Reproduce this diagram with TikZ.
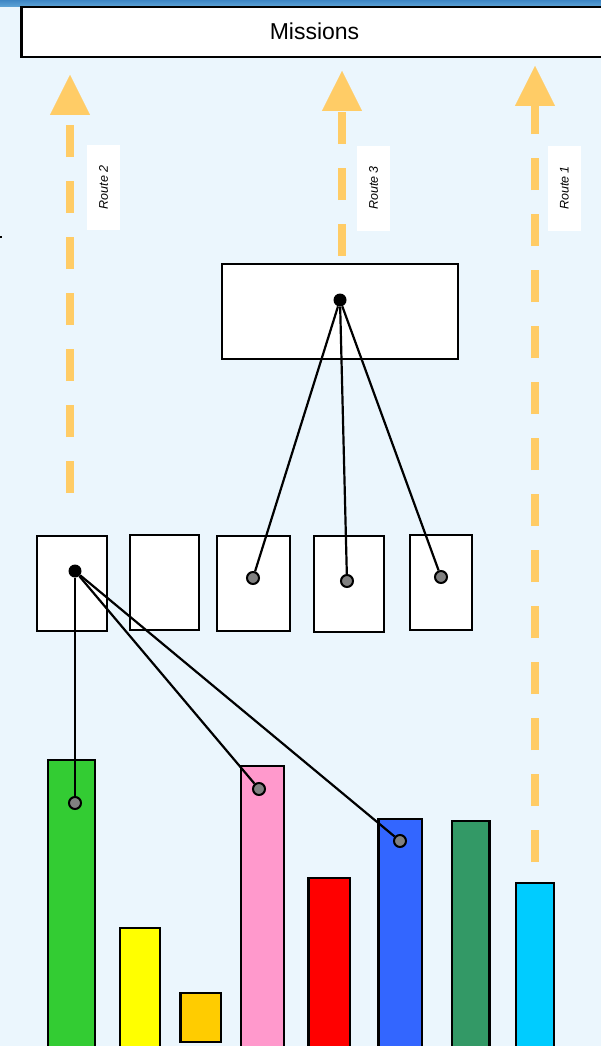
\documentclass[tikz,border=0pt]{standalone}
\usepackage{fontspec}
\setmainfont{Liberation Sans}
\usetikzlibrary{arrows.meta}
\definecolor{bgblue}{RGB}{235,246,253}
\definecolor{bandtop}{RGB}{62,134,196}
\definecolor{bandbot}{RGB}{96,166,216}
\definecolor{routeorange}{RGB}{255,204,102}
\definecolor{dotgray}{RGB}{128,128,128}
\definecolor{barGreen}{RGB}{51,204,51}
\definecolor{barYellow}{RGB}{255,255,0}
\definecolor{barGold}{RGB}{255,204,0}
\definecolor{barPink}{RGB}{255,153,204}
\definecolor{barRed}{RGB}{255,0,0}
\definecolor{barBlue}{RGB}{51,102,255}
\definecolor{barSea}{RGB}{51,153,102}
\definecolor{barCyan}{RGB}{0,204,255}
\tikzset{
  box/.style={draw,fill=white,line width=2.5pt,inner sep=0pt},
  bdot/.style={circle,fill=black,inner sep=0pt,minimum size=13pt},
  gdot/.style={circle,draw,fill=dotgray,line width=2pt,inner sep=0pt,minimum size=12pt},
  link/.style={line width=2.2pt},
  bar/.style={draw,line width=2.4pt},
  route/.style={routeorange,line width=8pt,dash pattern=on 32pt off 24pt,
    -{Triangle[length=40pt,width=40pt,line width=0.1pt]}},
  rlabel/.style={fill=white,rotate=90,minimum width=85pt,minimum height=33pt,
    inner sep=0pt,font=\fontsize{12.5}{14}\selectfont\itshape}
}
\begin{document}
\begin{tikzpicture}[x=1pt,y=-1pt]
\useasboundingbox (0,0) rectangle (601,1046);
\fill[bgblue] (0,0) rectangle (601,1046);
\shade[top color=bandtop,bottom color=bandbot] (0,0) rectangle (601,7);
\fill (0,236) rectangle (2,238);

\node[box,minimum width=600pt,minimum height=50pt,anchor=north west] (missions) at (20,6) {};
\node[font=\fontsize{23}{26}\selectfont] at (314.5,31.5) {Missions};

\coordinate (r2s) at (70,493);
\coordinate (r2e) at (70,75);
\coordinate (r3s) at (342,256);
\coordinate (r3e) at (342,71);
\coordinate (r1s) at (535,862);
\coordinate (r1e) at (535,66);
\draw[route] (r2s) -- (r2e);
\draw[route] (r3s) -- (r3e);
\draw[route] (r1s) -- (r1e);
\node[rlabel] (l2) at (103.5,187.5) {Route 2};
\node[rlabel] (l3) at (373.5,188) {Route 3};
\node[rlabel] (l1) at (564.5,188) {Route 1};

\node[box,minimum width=236pt,minimum height=95pt] (hub) at (340,311.5) {};
\node[box,minimum width=70pt,minimum height=95pt] (ba) at (72,583.5) {};
\node[box,minimum width=69pt,minimum height=95pt] (bb) at (164.5,582.5) {};
\node[box,minimum width=73pt,minimum height=95pt] (bc) at (253.5,583.5) {};
\node[box,minimum width=70pt,minimum height=96pt] (bd) at (349,584) {};
\node[box,minimum width=62pt,minimum height=95pt] (be) at (441,582.5) {};

\draw[bar,fill=barGreen] (48,760) rectangle (95,1052);
\draw[bar,fill=barYellow] (120,928) rectangle (160,1052);
\draw[bar,fill=barGold] (180.5,993) rectangle (221,1042);
\draw[bar,fill=barPink] (241,766) rectangle (284,1052);
\draw[bar,fill=barRed] (308.5,878) rectangle (350,1052);
\draw[bar,fill=barBlue] (378.5,819) rectangle (422,1052);
\draw[bar,fill=barSea] (452,821) rectangle (489.5,1052);
\draw[bar,fill=barCyan] (516,883) rectangle (554,1052);

\node[bdot] (hd) at (340,300) {};
\node[bdot] (ad) at (75,571) {};
\node[gdot] (cd) at (253,578) {};
\node[gdot] (dd) at (347,581) {};
\node[gdot] (ed) at (441,577) {};
\node[gdot] (gd) at (75,803) {};
\node[gdot] (pd) at (259,789) {};
\node[gdot] (bld) at (400,841) {};

\draw[link] (hd) -- (cd);
\draw[link] (hd) -- (dd);
\draw[link] (hd) -- (ed);
\draw[link] (ad) -- (gd);
\draw[link] (ad) -- (pd);
\draw[link] (ad) -- (bld);
\end{tikzpicture}
\end{document}
